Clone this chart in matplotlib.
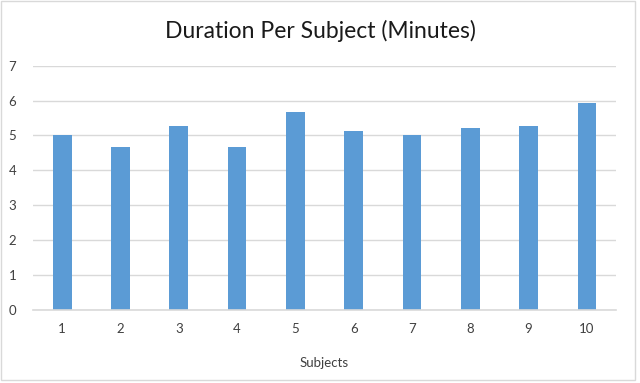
import matplotlib.pyplot as plt
from matplotlib.patches import Rectangle

subjects = ["1", "2", "3", "4", "5", "6", "7", "8", "9", "10"]
duration = [5.0, 4.66, 5.27, 4.66, 5.67, 5.12, 5.02, 5.21, 5.27, 5.92]

plt.rcParams['font.family'] = ['Lato', 'DejaVu Sans']

fig = plt.figure(figsize=(6.4, 3.83), dpi=100)
ax = fig.add_axes([0.0516, 0.1906, 0.9109, 0.6379])

x = list(range(len(subjects)))
ax.bar(x, duration, width=0.32, color="#5B9BD5", zorder=2)

ax.set_xlim(-0.5, len(subjects) - 0.5)
ax.set_ylim(0, 7)
ax.set_yticks(range(0, 8))
ax.set_xticks(x)
ax.set_xticklabels(subjects)
ax.grid(axis="y", color="#D9D9D9", linewidth=1, zorder=0)
for s in ["top", "right", "left"]:
    ax.spines[s].set_visible(False)
ax.spines["bottom"].set_color("#D9D9D9")
ax.spines["bottom"].set_linewidth(1.2)
ax.tick_params(length=0, labelsize=9.5, colors="#404040")
ax.tick_params(axis="y", pad=12)
ax.tick_params(axis="x", pad=9)

ax.set_xlabel("Subjects", fontsize=9.5, color="#404040", labelpad=16)
fig.text(0.5, 0.92, "Duration Per Subject (Minutes)", ha="center", va="center",
         fontsize=16.5, color="#1a1a1a")

fig.patches.append(Rectangle((0.002, 0.008), 0.99, 0.99, transform=fig.transFigure,
                             fill=False, edgecolor="#D9D9D9", linewidth=1))

fig.savefig("out.png", dpi=100)
